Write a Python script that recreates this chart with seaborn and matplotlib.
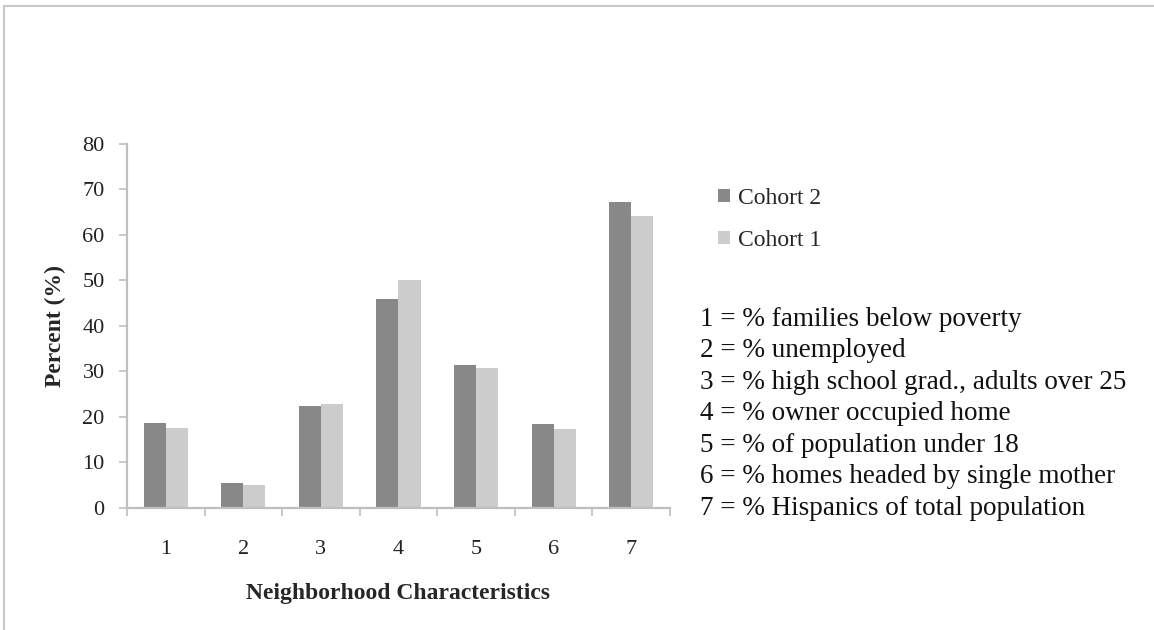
import numpy as np
import pandas as pd
import seaborn as sns
import matplotlib.pyplot as plt
from matplotlib.patches import Patch
from matplotlib.lines import Line2D

# values
categories = ['1', '2', '3', '4', '5', '6', '7']
cohort2 = [18.6, 5.4, 22.4, 46.0, 31.4, 18.4, 67.2]
cohort1 = [17.5, 5.0, 22.8, 50.1, 30.7, 17.4, 64.1]
series = ['Cohort 2', 'Cohort 1']
colors = ['#888888', '#cccccc']
key_lines = ['1 = % families below poverty',
             '2 = % unemployed',
             '3 = % high school grad., adults over 25',
             '4 = % owner occupied home',
             '5 = % of population under 18',
             '6 = % homes headed by single mother',
             '7 = % Hispanics of total population']

df = pd.DataFrame({'cat': categories * 2,
                   'val': cohort2 + cohort1,
                   'cohort': ['Cohort 2'] * 7 + ['Cohort 1'] * 7})

sns.set_style('white')
plt.rcParams['font.family'] = ['Liberation Serif', 'DejaVu Serif']

fig = plt.figure(figsize=(11.54, 6.3), dpi=100)
ax = fig.add_axes([0.110, 0.1937, 0.4706, 0.5778])

sns.barplot(data=df, x='cat', y='val', hue='cohort', hue_order=series,
            palette=colors, width=0.57, gap=0, linewidth=0, saturation=1,
            ax=ax, legend=False)

axcol = '#bfbfbf'
ax.set_ylim(0, 80)
ax.set_xlim(-0.5, 6.5)
ax.set_yticks(np.arange(0, 81, 10))
ax.set_xticks(np.arange(7))
ax.set_xticks(np.arange(-0.5, 7, 1), minor=True)
ax.tick_params(axis='y', which='major', length=6, width=1.2, color=axcol,
               labelsize=16, pad=10, labelcolor='#222222', left=True)
ax.tick_params(axis='x', which='major', length=0, labelsize=16, pad=23,
               labelcolor='#222222')
ax.tick_params(axis='x', which='minor', length=6, width=1.2, color=axcol,
               bottom=True, direction='out')
for s in ['top', 'right']:
    ax.spines[s].set_visible(False)
for s in ['left', 'bottom']:
    ax.spines[s].set_color(axcol)
    ax.spines[s].set_linewidth(1.6)

ax.set_xlabel('Neighborhood Characteristics', fontsize=17, fontweight='bold',
              labelpad=17)
ax.set_ylabel('Percent (%)', fontsize=17, fontweight='bold', labelpad=12)

handles = [Patch(facecolor=c, edgecolor='none', label=s) for s, c in zip(series, colors)]
fig.legend(handles=handles, loc='upper left', bbox_to_anchor=(0.6036, 0.7356),
           frameon=False, fontsize=17, handlelength=0.5, handleheight=0.5,
           handletextpad=0.35, labelspacing=0.9)

for i, line in enumerate(key_lines):
    fig.text(0.607, 0.493 - i * 0.0499, line, fontsize=19.5, va='center',
             ha='left', color='#111111')

# outer frame of the pasted chart
fig.add_artist(Line2D([0.0035, 1.0], [0.990, 0.990], color='#c8c8c8', lw=1.5,
                      transform=fig.transFigure))
fig.add_artist(Line2D([0.0035, 0.0035], [0.0, 0.990], color='#c8c8c8', lw=1.5,
                      transform=fig.transFigure))

fig.savefig('out.png', dpi=100)
